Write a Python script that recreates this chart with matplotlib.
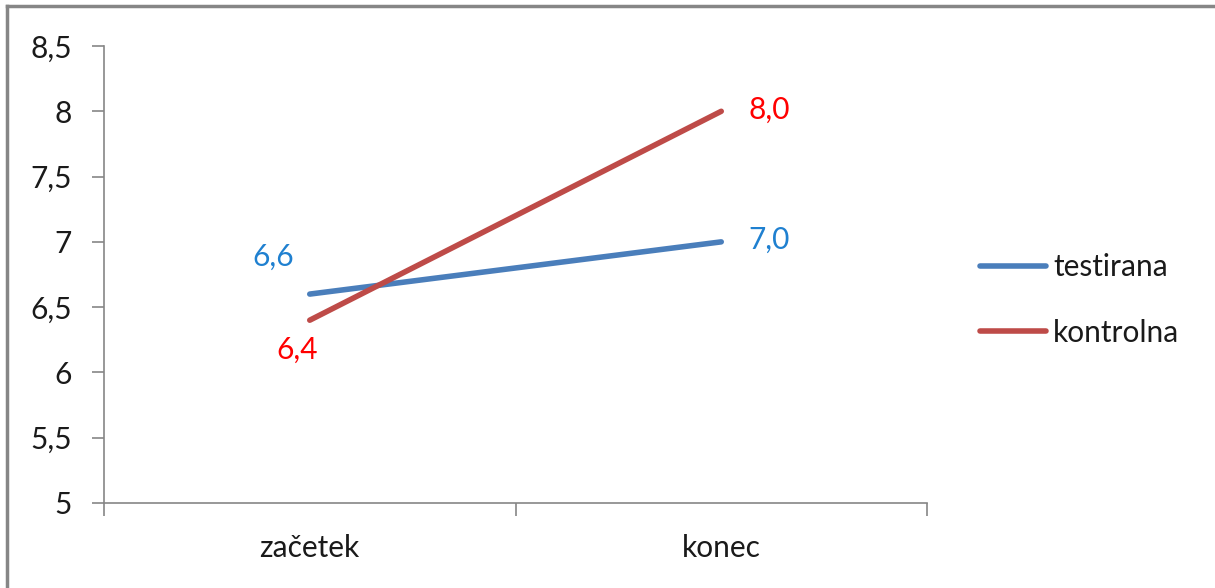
import matplotlib.pyplot as plt
from matplotlib.lines import Line2D
from matplotlib.ticker import FuncFormatter

plt.rcParams['font.family'] = ['Lato', 'DejaVu Sans']

categories = ['začetek', 'konec']
series_names = ['testirana', 'kontrolna']
testirana = [6.6, 7.0]
kontrolna = [6.4, 8.0]

line_colors = ['#4A7EBB', '#BE4B48']
label_colors = ['#1F80D0', '#FF0000']
axis_gray = '#868686'
fs = 21.5

fig = plt.figure(figsize=(12.15, 5.88), dpi=100)
ax = fig.add_axes([104 / 1215, 1 - 503 / 588, (927 - 104) / 1215, (503 - 46) / 588])

# outer chart frame: top and left edges
top = 1 - 5.5 / 588
left = 6.5 / 1215
fig.lines.append(Line2D([left, 1.0], [top, top], transform=fig.transFigure,
                        color='#868686', linewidth=2.5))
fig.lines.append(Line2D([left, left], [0.0, top], transform=fig.transFigure,
                        color='#868686', linewidth=2.5))

x = [0.5, 1.5]
for vals, name, col in zip([testirana, kontrolna], series_names, line_colors):
    ax.plot(x, vals, color=col, linewidth=4, solid_capstyle='round', label=name)

# value labels
def fmt(v):
    return f'{v:.1f}'.replace('.', ',')

ax.annotate(fmt(testirana[0]), (x[0], testirana[0]), xytext=(-37, 37),
            textcoords='offset pixels', ha='center', va='center',
            fontsize=fs, color=label_colors[0])
ax.annotate(fmt(kontrolna[0]), (x[0], kontrolna[0]), xytext=(-13, -30),
            textcoords='offset pixels', ha='center', va='center',
            fontsize=fs, color=label_colors[1])
ax.annotate(fmt(testirana[1]), (x[1], testirana[1]), xytext=(27, 2),
            textcoords='offset pixels', ha='left', va='center',
            fontsize=fs, color=label_colors[0])
ax.annotate(fmt(kontrolna[1]), (x[1], kontrolna[1]), xytext=(27, 2),
            textcoords='offset pixels', ha='left', va='center',
            fontsize=fs, color=label_colors[1])

ax.set_xlim(0, 2)
ax.set_ylim(5, 8.5)
ax.set_yticks([5, 5.5, 6, 6.5, 7, 7.5, 8, 8.5])
ax.yaxis.set_major_formatter(FuncFormatter(
    lambda v, p: (f'{v:g}').replace('.', ',')))
ax.set_xticks([0, 1, 2])
ax.set_xticklabels([])
ax.set_xticks(x, minor=True)
ax.set_xticklabels(categories, minor=True)
ax.tick_params(axis='x', which='minor', length=0, pad=22, labelsize=fs, colors='#1a1a1a')
ax.tick_params(axis='x', which='major', length=9, direction='out', color=axis_gray, width=1.2)
ax.tick_params(axis='y', length=9, direction='out', color=axis_gray, width=1.2,
               labelsize=fs, labelcolor='#1a1a1a', pad=14)

for s in ['top', 'right']:
    ax.spines[s].set_visible(False)
for s in ['left', 'bottom']:
    ax.spines[s].set_color(axis_gray)
    ax.spines[s].set_linewidth(1.2)

ax.legend(loc='center left', bbox_to_anchor=(953 / 1215, 1 - 300 / 588),
          bbox_transform=fig.transFigure, frameon=False, fontsize=fs,
          handlelength=2.2, handletextpad=0.25, labelspacing=1.25,
          labelcolor='#1a1a1a')

fig.savefig('out.png', dpi=100)
